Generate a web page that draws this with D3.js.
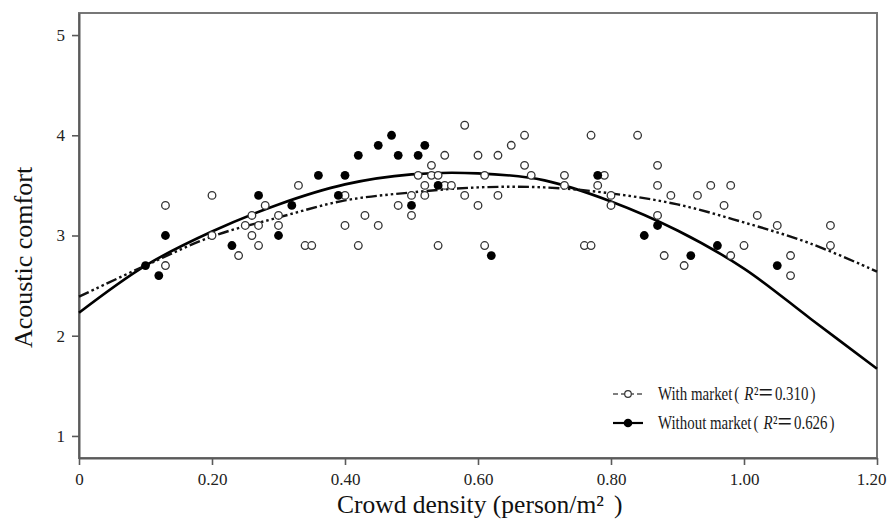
<!DOCTYPE html>
<html><head><meta charset="utf-8">
<script src="https://cdn.jsdelivr.net/npm/d3@7"></script>
<style>body{margin:0;background:#fff} svg{display:block}</style>
</head><body><svg id="c" width="887" height="524"></svg>
<script>
// ---- data ----
const xTicks = [0, 0.2, 0.4, 0.6, 0.8, 1.0, 1.2];
const xTickLabels = ["0", "0.20", "0.40", "0.60", "0.80", "1.00", "1.20"];
const yTicks = [1, 2, 3, 4, 5];
const yTickLabels = ["1", "2", "3", "4", "5"];

// With market (open circles)
const withX = [0.13,0.13,0.20,0.20,0.24,0.25,0.26,0.26,0.27,0.27,0.28,0.30,0.30,0.33,0.34,0.35,0.40,0.40,0.42,0.43,0.45,0.48,0.50,0.50,0.51,0.52,0.52,0.53,0.53,0.54,0.54,0.55,0.55,0.56,0.58,0.58,0.60,0.60,0.61,0.61,0.63,0.63,0.65,0.67,0.67,0.68,0.73,0.73,0.76,0.77,0.77,0.78,0.79,0.80,0.80,0.84,0.87,0.87,0.87,0.88,0.89,0.91,0.93,0.95,0.97,0.98,0.98,1.00,1.02,1.05,1.07,1.07,1.13,1.13];
const withY = [3.3,2.7,3.4,3.0,2.8,3.1,3.2,3.0,3.1,2.9,3.3,3.2,3.1,3.5,2.9,2.9,3.4,3.1,2.9,3.2,3.1,3.3,3.4,3.2,3.6,3.5,3.4,3.7,3.6,2.9,3.6,3.8,3.5,3.5,4.1,3.4,3.8,3.3,3.6,2.9,3.8,3.4,3.9,4.0,3.7,3.6,3.6,3.5,2.9,2.9,4.0,3.5,3.6,3.4,3.3,4.0,3.7,3.5,3.2,2.8,3.4,2.7,3.4,3.5,3.3,3.5,2.8,2.9,3.2,3.1,2.8,2.6,3.1,2.9];

// Without market (filled circles)
const withoutX = [0.10,0.12,0.13,0.23,0.27,0.30,0.32,0.36,0.39,0.40,0.42,0.45,0.47,0.48,0.50,0.51,0.52,0.54,0.62,0.78,0.85,0.87,0.92,0.96,1.05];
const withoutY = [2.7,2.6,3.0,2.9,3.4,3.0,3.3,3.6,3.4,3.6,3.8,3.9,4.0,3.8,3.3,3.8,3.9,3.5,2.8,3.6,3.0,3.1,2.8,2.9,2.7];

// Fitted curves, values
const fitX = [0,0.1,0.2,0.3,0.4,0.5,0.6,0.7,0.8,0.9,1.0,1.1,1.2];
const fitWith = [2.39,2.70,2.99,3.18,3.35,3.43,3.48,3.48,3.42,3.31,3.13,2.92,2.64];
const fitWithout = [2.23,2.70,3.04,3.31,3.51,3.61,3.62,3.55,3.34,3.05,2.67,2.17,1.67];

const legendLabels = ["With market", "Without market"];
const legendR2 = ["0.310", "0.626"];
const xTitle = "Crowd density (person/m";
const yTitle = "Acoustic comfort";

// ---- drawing ----
const svg = d3.select("#c");
const W = 887, H = 524;
const m = {l: 79, r: 10, t: 13, b: 66};
const x = d3.scaleLinear([0, 1.2], [m.l, W - m.r]);
const y = d3.scaleLinear([0.78, 5.22], [H - m.b, m.t]);
const font = "'Liberation Serif', 'Times New Roman', serif";
const axisColor = "#5a5a5a";

// frame
svg.append("rect").attr("x", x(0)).attr("y", y(5.22))
  .attr("width", x(1.2) - x(0)).attr("height", y(0.78) - y(5.22))
  .attr("fill", "none").attr("stroke", "#777").attr("stroke-width", 2);

const gx = svg.append("g").attr("transform", `translate(0,${y(0.78)})`)
  .call(d3.axisBottom(x).tickValues(xTicks).tickFormat((d, i) => xTickLabels[i]).tickSize(7).tickSizeOuter(0).tickPadding(8));
const gy = svg.append("g").attr("transform", `translate(${x(0)},0)`)
  .call(d3.axisLeft(y).tickValues(yTicks).tickFormat((d, i) => yTickLabels[i]).tickSize(7).tickSizeOuter(0).tickPadding(7));
[gx, gy].forEach(g => {
  g.select(".domain").attr("stroke", axisColor).attr("stroke-width", 2);
  g.selectAll(".tick line").attr("stroke", axisColor).attr("stroke-width", 1.6);
  g.selectAll(".tick text").attr("fill", "#222").style("font-family", font).style("font-size", "17px");
});
// last x label sits against the right edge
gx.selectAll(".tick text").filter((d, i) => i === xTicks.length - 1)
  .attr("text-anchor", "end").attr("x", 9);

// fitted curves
const line = d3.line().x((d, i) => x(fitX[i])).y(d => y(d)).curve(d3.curveCatmullRom);
svg.append("path").datum(fitWithout).attr("d", line)
  .attr("fill", "none").attr("stroke", "#000").attr("stroke-width", 2.6);
svg.append("path").datum(fitWith).attr("d", line)
  .attr("fill", "none").attr("stroke", "#111").attr("stroke-width", 2.4)
  .attr("stroke-dasharray", "11,3,2.5,3,2.5,3,2.5,3");

// points
svg.append("g").selectAll("circle").data(withX).join("circle")
  .attr("cx", d => x(d)).attr("cy", (d, i) => y(withY[i])).attr("r", 3.8)
  .attr("fill", "#fff").attr("stroke", "#333").attr("stroke-width", 1.3);
svg.append("g").selectAll("circle").data(withoutX).join("circle")
  .attr("cx", d => x(d)).attr("cy", (d, i) => y(withoutY[i])).attr("r", 4.4)
  .attr("fill", "#000");

// legend
const lg = svg.append("g");
const rowsY = [394, 423];
lg.append("line").attr("x1", 613).attr("x2", 643).attr("y1", rowsY[0]).attr("y2", rowsY[0])
  .attr("stroke", "#555").attr("stroke-width", 1.3).attr("stroke-dasharray", "5,3");
lg.append("circle").attr("cx", 628).attr("cy", rowsY[0]).attr("r", 3.3)
  .attr("fill", "#fff").attr("stroke", "#333").attr("stroke-width", 1.2);
lg.append("line").attr("x1", 613).attr("x2", 643).attr("y1", rowsY[1]).attr("y2", rowsY[1])
  .attr("stroke", "#000").attr("stroke-width", 2.2);
lg.append("circle").attr("cx", 628).attr("cy", rowsY[1]).attr("r", 4.3).attr("fill", "#000");
const sx = 0.785;
legendLabels.forEach((lab, i) => {
  const g = lg.append("g").attr("transform", `translate(658,${rowsY[i] + 5.5}) scale(${sx},1)`);
  const t = g.append("text").attr("x", 0).attr("y", 0)
    .style("font-family", font).style("font-size", "19px").attr("fill", "#1a1a1a");
  t.append("tspan").text(lab);
  t.append("tspan").attr("dx", 2 / sx).text("(");
  t.append("tspan").attr("dx", 5 / sx).style("font-style", "italic").text("R");
  t.append("tspan").attr("dx", 0.5 / sx).text("²");
  t.append("tspan").attr("dx", -1 / sx).style("font-family", "'Noto Sans CJK SC', sans-serif").style("font-size", "21px").text("＝");
  t.append("tspan").attr("dx", 1 / sx).text(legendR2[i]);
  t.append("tspan").attr("dx", 2 / sx).text(")");
});

// axis titles
const xt = svg.append("text").attr("x", 337).attr("y", 513)
  .style("font-family", font).style("font-size", "25.5px").attr("fill", "#111");
xt.append("tspan").text(xTitle);
xt.append("tspan").text("²");
xt.append("tspan").attr("dx", 10).text(")");

svg.append("text").attr("transform", `translate(32,${257.5}) rotate(-90)`)
  .attr("text-anchor", "middle")
  .style("font-family", font).style("font-size", "26px").attr("fill", "#111")
  .text(yTitle);
</script>
</body></html>
